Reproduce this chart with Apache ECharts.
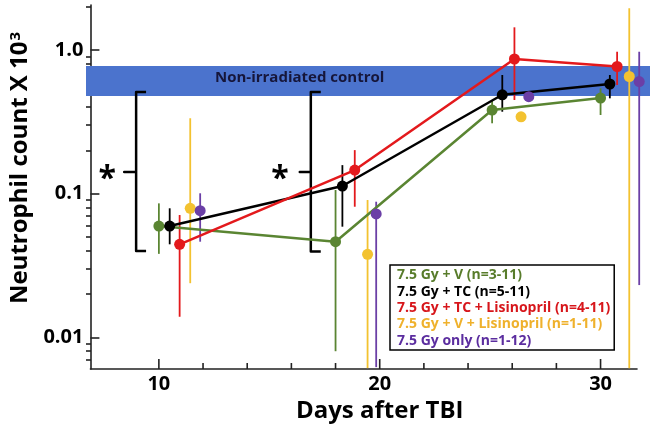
<!DOCTYPE html>
<html>
<head>
<meta charset="utf-8">
<script src="https://cdn.jsdelivr.net/npm/echarts@6/dist/echarts.min.js"></script>
<style>
  html, body { margin: 0; padding: 0; background: #fff; }
  #chart { width: 654px; height: 428px; }
</style>
</head>
<body>
<div id="chart"></div>
<script>
// group names
const groups = [
  '7.5 Gy + V (n=3-11)',
  '7.5 Gy + TC (n=5-11)',
  '7.5 Gy + TC + Lisinopril (n=4-11)',
  '7.5 Gy + V + Lisinopril (n=1-11)',
  '7.5 Gy only (n=1-12)'
]

// days after TBI (points are jittered around the sampling days)
const greenDays = [10.0, 18.0, 25.09, 30.0]
const blackDays = [10.49, 18.31, 25.55, 30.42]
const redDays = [10.94, 18.87, 26.1, 30.75]
const yellowDays = [11.42, 19.45, 26.4, 31.3]
const purpleDays = [11.87, 19.84, 26.75, 31.75]

// neutrophil count x 10^3 (mean, low, high)
const greenMean = [0.0595, 0.0463, 0.382, 0.463]
const greenLow = [0.0381, 0.0080, 0.309, 0.353]
const greenHigh = [0.0856, 0.106, 0.449, 0.541]

const blackMean = [0.0595, 0.113, 0.488, 0.580]
const blackLow = [0.0444, 0.0589, 0.372, 0.461]
const blackHigh = [0.0791, 0.158, 0.670, 0.670]

const redMean = [0.0444, 0.146, 0.866, 0.768]
const redLow = [0.0139, 0.0811, 0.449, 0.571]
const redHigh = [0.0710, 0.201, 1.439, 0.973]

const yellowMean = [0.0791, 0.0378, 0.343, 0.654]
const yellowLow = [0.0238, 0.0061, null, 0.0061]
const yellowHigh = [0.335, 0.0903, null, 1.95]

const purpleMean = [0.0761, 0.0722, 0.473, 0.603]
const purpleLow = [0.0463, 0.0062, null, 0.0231]
const purpleHigh = [0.1006, 0.0879, null, 0.973]

// non-irradiated control band
const controlLow = 0.478
const controlHigh = 0.774

// significance brackets
const bracketX = [8.97, 16.88]
const bracketTop = [0.51, 0.51]
const bracketBottom = [0.0399, 0.0395]
const bracketMid = [0.1415, 0.1415]
const bracketNub = [8.43, 16.38]
const bracketFoot = [9.42, 17.33]
const starX = [7.66, 15.48]

// axes
const xMin = 6.9
const xMax = 31.65
const yMin = 0.006016
const yMax = 2.058
const xMajorTicks = [10, 20, 30]
const xAllTicks = [10, 12, 14, 16, 18, 20, 22, 24, 26, 28, 30]
const yMajorTicks = [0.01, 0.1, 1]
const yTickLabels = ['0.01', '0.1', '1.0']
const yMinorTicks = [0.007, 0.008, 0.009, 0.02, 0.03, 0.04, 0.05, 0.06, 0.07, 0.08, 0.09,
  0.2, 0.3, 0.4, 0.5, 0.6, 0.7, 0.8, 0.9, 2]

const colors = ['#5a8532', '#000000', '#e3191c', '#f3c230', '#6b3fa6']
const textColors = ['#587c2b', '#000000', '#d7161b', '#efb12c', '#5b2d9f']
const FONT = 'Open Sans'

const zip = (a, b) => a.map((v, i) => [v, b[i]])

function errorBars(name, color, days, low, high) {
  const rows = []
  days.forEach((d, i) => {
    if (low[i] != null) rows.push([d, low[i], high[i]])
  })
  return {
    type: 'custom',
    name: name,
    xAxisIndex: 0,
    yAxisIndex: 0,
    clip: false,
    silent: true,
    z: 3,
    data: rows,
    encode: { x: 0, y: [1, 2] },
    renderItem: (params, api) => {
      const a = api.coord([api.value(0), api.value(1)])
      const b = api.coord([api.value(0), api.value(2)])
      return {
        type: 'line',
        shape: { x1: a[0], y1: a[1], x2: b[0], y2: b[1] },
        style: { stroke: color, lineWidth: 1.8 }
      }
    }
  }
}

function lineSeries(name, color, days, mean) {
  return {
    type: 'line',
    name: name,
    data: zip(days, mean),
    xAxisIndex: 0,
    yAxisIndex: 0,
    clip: false,
    symbol: 'circle',
    symbolSize: 11,
    showSymbol: true,
    z: 4,
    itemStyle: { color: color },
    lineStyle: { color: color, width: 2.5 }
  }
}

function dotSeries(name, color, days, mean) {
  return {
    type: 'scatter',
    name: name,
    data: zip(days, mean),
    xAxisIndex: 0,
    yAxisIndex: 0,
    clip: false,
    symbol: 'circle',
    symbolSize: 11,
    z: 4,
    itemStyle: { color: color, opacity: 1 }
  }
}

const brackets = bracketX.map((x, i) => [x, bracketTop[i], bracketBottom[i], bracketMid[i],
  bracketNub[i], bracketFoot[i], starX[i]])

const tickLine = { color: '#222', width: 1.6 }

const chart = echarts.init(document.getElementById('chart'))
chart.setOption({
  animation: false,
  backgroundColor: '#fff',
  textStyle: { fontFamily: FONT },
  grid: [
    { left: 86, right: 17, top: 5, bottom: 59 },
    // wider grid only for the control band, which runs past the axis end
    { left: 86, right: 4, top: 5, bottom: 59 },
    // same box again, just to carry the minor y ticks
    { left: 86, right: 17, top: 5, bottom: 59 }
  ],
  legend: {
    orient: 'vertical',
    left: 390,
    top: 265,
    padding: [2, 4, 1, 2],
    itemGap: 0,
    itemWidth: 0,
    itemHeight: 0,
    borderColor: '#000',
    borderWidth: 1.5,
    backgroundColor: '#fff',
    selectedMode: false,
    textStyle: { fontFamily: FONT, fontWeight: 'bold', fontSize: 14, lineHeight: 16.4 },
    data: groups.map((g, i) => ({ name: g, icon: 'rect', textStyle: { color: textColors[i] } }))
  },
  xAxis: [
    {
      type: 'value',
      gridIndex: 0,
      position: 'bottom',
      min: xMin,
      max: xMax,
      splitLine: { show: false },
      axisLine: { onZero: false, lineStyle: tickLine },
      axisTick: { show: false },
      axisLabel: {
        customValues: xMajorTicks,
        margin: 5,
        color: '#000',
        fontFamily: FONT,
        fontWeight: 'bold',
        fontSize: 20
      },
      name: 'Days after TBI',
      nameLocation: 'middle',
      nameGap: 30,
      nameTextStyle: { color: '#000', fontFamily: FONT, fontWeight: 'bold', fontSize: 24, padding: [0, 0, 0, 32] }
    },
    { type: 'value', gridIndex: 1, min: 0, max: 1, show: false },
    { type: 'value', gridIndex: 2, min: xMin, max: xMax, show: false }
  ],
  yAxis: [
    {
      type: 'log',
      gridIndex: 0,
      position: 'left',
      min: yMin,
      max: yMax,
      splitLine: { show: false },
      axisLine: { onZero: false, lineStyle: tickLine },
      axisTick: { inside: true, length: 9, customValues: yMajorTicks, lineStyle: tickLine },
      axisLabel: {
        customValues: yMajorTicks,
        margin: 7,
        color: '#000',
        fontFamily: FONT,
        fontWeight: 'bold',
        fontSize: 20,
        formatter: v => {
          let best = 0
          yMajorTicks.forEach((t, i) => {
            if (Math.abs(Math.log10(t) - Math.log10(v)) < Math.abs(Math.log10(yMajorTicks[best]) - Math.log10(v))) best = i
          })
          return yTickLabels[best]
        }
      },
      name: 'Neutrophil count X 10{sup|3}',
      nameLocation: 'middle',
      nameGap: 54,
      nameTextStyle: {
        color: '#000',
        fontFamily: FONT,
        fontWeight: 'bold',
        fontSize: 24,
        padding: [0, 0, 0, 38],
        rich: {
          sup: { fontFamily: FONT, fontWeight: 'bold', fontSize: 15, color: '#000', verticalAlign: 'top', padding: [0, 0, 10, 1] }
        }
      }
    },
    { type: 'log', gridIndex: 1, min: yMin, max: yMax, show: false },
    {
      type: 'log',
      gridIndex: 2,
      position: 'left',
      min: yMin,
      max: yMax,
      splitLine: { show: false },
      axisLine: { show: false, onZero: false },
      axisTick: { inside: true, length: 5, customValues: yMinorTicks, lineStyle: tickLine },
      axisLabel: { show: false }
    }
  ],
  series: [
    {
      type: 'line',
      name: 'control',
      xAxisIndex: 1,
      yAxisIndex: 1,
      data: [],
      z: 0,
      silent: true,
      markArea: {
        silent: true,
        itemStyle: { color: '#4b73cd', opacity: 1 },
        label: {
          show: true,
          position: 'insideLeft',
          distance: 129,
          offset: [0, -3],
          color: '#16163a',
          fontFamily: FONT,
          fontWeight: 'bold',
          fontSize: 15
        },
        data: [[{ yAxis: controlLow, name: 'Non-irradiated control' }, { yAxis: controlHigh }]]
      }
    },
    {
      // x ticks (long at 10/20/30, short every 2 days), standing up from the x axis
      type: 'custom',
      name: 'xticks',
      xAxisIndex: 0,
      yAxisIndex: 0,
      clip: false,
      silent: true,
      z: 6,
      data: xAllTicks.map(v => [v, yMin]),
      encode: { x: 0, y: 1 },
      renderItem: (params, api) => {
        const v = api.value(0)
        const p = api.coord([v, api.value(1)])
        const len = xMajorTicks.indexOf(v) >= 0 ? 10 : 6
        return {
          type: 'line',
          shape: { x1: p[0], y1: p[1], x2: p[0], y2: p[1] - len },
          style: { stroke: '#222', lineWidth: 1.6 }
        }
      }
    },
    {
      type: 'custom',
      name: 'brackets',
      xAxisIndex: 0,
      yAxisIndex: 0,
      clip: false,
      silent: true,
      z: 2,
      data: brackets,
      renderItem: (params, api) => {
        const c = (x, y) => api.coord([x, y])
        const x = api.value(0), top = api.value(1), bot = api.value(2), mid = api.value(3)
        const nub = api.value(4), foot = api.value(5), star = api.value(6)
        const pts = [c(foot, top), c(x, top), c(x, mid), c(nub, mid), c(x, mid), c(x, bot), c(foot, bot)]
        const s = c(star, mid)
        return {
          type: 'group',
          children: [
            { type: 'polyline', shape: { points: pts }, style: { stroke: '#000', lineWidth: 2.5, fill: null, lineJoin: 'round' } },
            {
              type: 'text',
              x: s[0],
              y: s[1] + 8,
              style: { text: '*', fill: '#000', font: 'bold 32px "Open Sans"', align: 'center', verticalAlign: 'middle' }
            }
          ]
        }
      }
    },
    errorBars(groups[0], colors[0], greenDays, greenLow, greenHigh),
    errorBars(groups[1], colors[1], blackDays, blackLow, blackHigh),
    errorBars(groups[2], colors[2], redDays, redLow, redHigh),
    errorBars(groups[3], colors[3], yellowDays, yellowLow, yellowHigh),
    errorBars(groups[4], colors[4], purpleDays, purpleLow, purpleHigh),
    lineSeries(groups[0], colors[0], greenDays, greenMean),
    lineSeries(groups[1], colors[1], blackDays, blackMean),
    lineSeries(groups[2], colors[2], redDays, redMean),
    dotSeries(groups[3], colors[3], yellowDays, yellowMean),
    dotSeries(groups[4], colors[4], purpleDays, purpleMean)
  ]
})
</script>
</body>
</html>
